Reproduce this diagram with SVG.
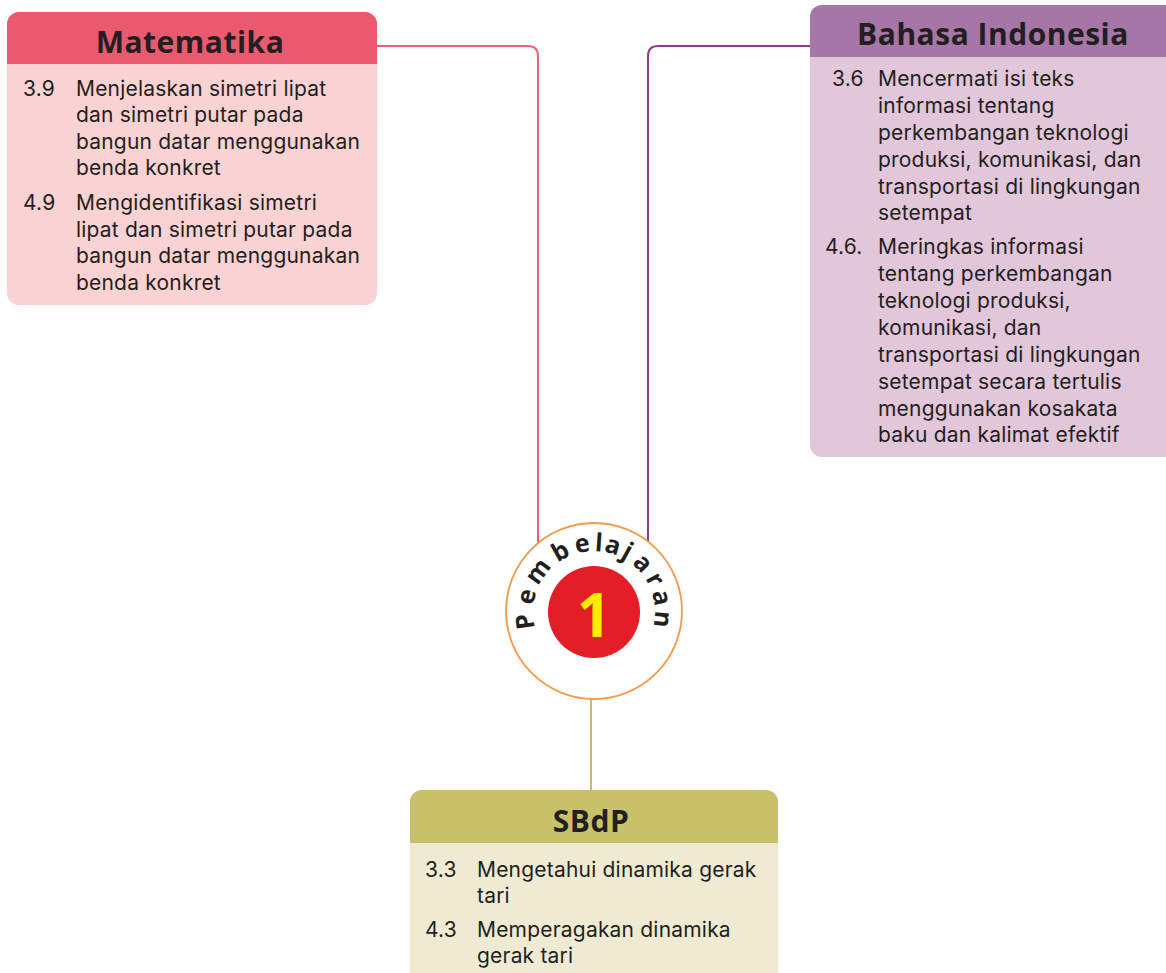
<svg xmlns="http://www.w3.org/2000/svg" width="1166" height="973" viewBox="0 0 1166 973">
<defs>
<style>
.t{font-family:Inter,"Liberation Sans",sans-serif;font-size:21px;letter-spacing:0.2px;fill:#231F20}
.h{font-family:"Open Sans","Liberation Sans",sans-serif;font-size:30px;font-weight:bold;fill:#231F20;text-anchor:middle;letter-spacing:0.5px}
.c{fill:none;stroke-width:2}
.p{font-family:"Open Sans","Liberation Sans",sans-serif;font-size:25px;font-weight:bold;fill:#231F20;text-anchor:middle}
</style>
<clipPath id="cm"><rect x="7" y="12" width="370" height="293" rx="12"/></clipPath>
<clipPath id="cb"><rect x="810" y="5" width="380" height="452" rx="12"/></clipPath>
<clipPath id="cs"><rect x="410" y="790" width="368" height="200" rx="12"/></clipPath>
</defs>
<g id="connectors">
<path class="c" stroke="#E8607A" d="M 377 46 H 528 Q 538 46 538 56 V 560"/>
<path class="c" stroke="#8E3A91" d="M 810 46 H 658 Q 648 46 648 56 V 560"/>
<path class="c" stroke="#C8BE6E" d="M 591 690 V 790"/>
</g>
<g id="matematika">
<g clip-path="url(#cm)">
<rect x="7" y="12" width="370" height="293" fill="#F9D3D3"/>
<rect x="7" y="12" width="370" height="52" fill="#E95A6F"/>
</g>
<text class="h" x="190" y="53">Matematika</text>
<text class="t" x="23" y="96">3.9</text>
<text class="t" x="76" y="96">Menjelaskan simetri lipat</text>
<text class="t" x="76" y="122">dan simetri putar pada</text>
<text class="t" x="76" y="149">bangun datar menggunakan</text>
<text class="t" x="76" y="175">benda konkret</text>
<text class="t" x="23" y="210">4.9</text>
<text class="t" x="76" y="210">Mengidentifikasi simetri</text>
<text class="t" x="76" y="237">lipat dan simetri putar pada</text>
<text class="t" x="76" y="263">bangun datar menggunakan</text>
<text class="t" x="76" y="290">benda konkret</text>
</g>
<g id="bahasa">
<g clip-path="url(#cb)">
<rect x="810" y="5" width="380" height="452" fill="#E2C6DA"/>
<rect x="810" y="5" width="380" height="52" fill="#A676A6"/>
</g>
<text class="h" x="993" y="45">Bahasa Indonesia</text>
<text class="t" x="832" y="86">3.6</text>
<text class="t" x="878" y="86">Mencermati isi teks</text>
<text class="t" x="878" y="113">informasi tentang</text>
<text class="t" x="878" y="140">perkembangan teknologi</text>
<text class="t" x="878" y="167">produksi, komunikasi, dan</text>
<text class="t" x="878" y="194">transportasi di lingkungan</text>
<text class="t" x="878" y="220">setempat</text>
<text class="t" x="825" y="254">4.6.</text>
<text class="t" x="878" y="254">Meringkas informasi</text>
<text class="t" x="878" y="281">tentang perkembangan</text>
<text class="t" x="878" y="308">teknologi produksi,</text>
<text class="t" x="878" y="335">komunikasi, dan</text>
<text class="t" x="878" y="362">transportasi di lingkungan</text>
<text class="t" x="878" y="389">setempat secara tertulis</text>
<text class="t" x="878" y="416">menggunakan kosakata</text>
<text class="t" x="878" y="442">baku dan kalimat efektif</text>
</g>
<g id="pembelajaran">
<circle cx="594" cy="611" r="88" fill="#FFFFFF" stroke="#F39A4B" stroke-width="1.8"/>
<circle cx="594" cy="612" r="46" fill="#E31E26"/>
<text x="594" y="637" font-family="Open Sans,Liberation Sans,sans-serif" font-size="60" font-weight="bold" fill="#FFED00" text-anchor="middle">1</text>
<text class="p" x="594" y="551" transform="rotate(-98 594 612)">P</text>
<text class="p" x="594" y="551" transform="rotate(-77 594 612)">e</text>
<text class="p" x="594" y="551" transform="rotate(-54 594 612)">m</text>
<text class="p" x="594" y="551" transform="rotate(-29 594 612)">b</text>
<text class="p" x="594" y="551" transform="rotate(-10 594 612)">e</text>
<text class="p" x="594" y="551" transform="rotate(4 594 612)">l</text>
<text class="p" x="594" y="551" transform="rotate(16 594 612)">a</text>
<text class="p" x="594" y="551" transform="rotate(29 594 612)">j</text>
<text class="p" x="594" y="551" transform="rotate(45 594 612)">a</text>
<text class="p" x="594" y="551" transform="rotate(62 594 612)">r</text>
<text class="p" x="594" y="551" transform="rotate(78 594 612)">a</text>
<text class="p" x="594" y="551" transform="rotate(96 594 612)">n</text>
</g>
<g id="sbdp">
<g clip-path="url(#cs)">
<rect x="410" y="790" width="368" height="200" fill="#EFEBD3"/>
<rect x="410" y="790" width="368" height="53" fill="#C9C06A"/>
</g>
<text class="h" x="591" y="832">SBdP</text>
<text class="t" x="425" y="877">3.3</text>
<text class="t" x="477" y="877">Mengetahui dinamika gerak</text>
<text class="t" x="477" y="903">tari</text>
<text class="t" x="425" y="937">4.3</text>
<text class="t" x="477" y="937">Memperagakan dinamika</text>
<text class="t" x="477" y="963">gerak tari</text>
</g>
</svg>
